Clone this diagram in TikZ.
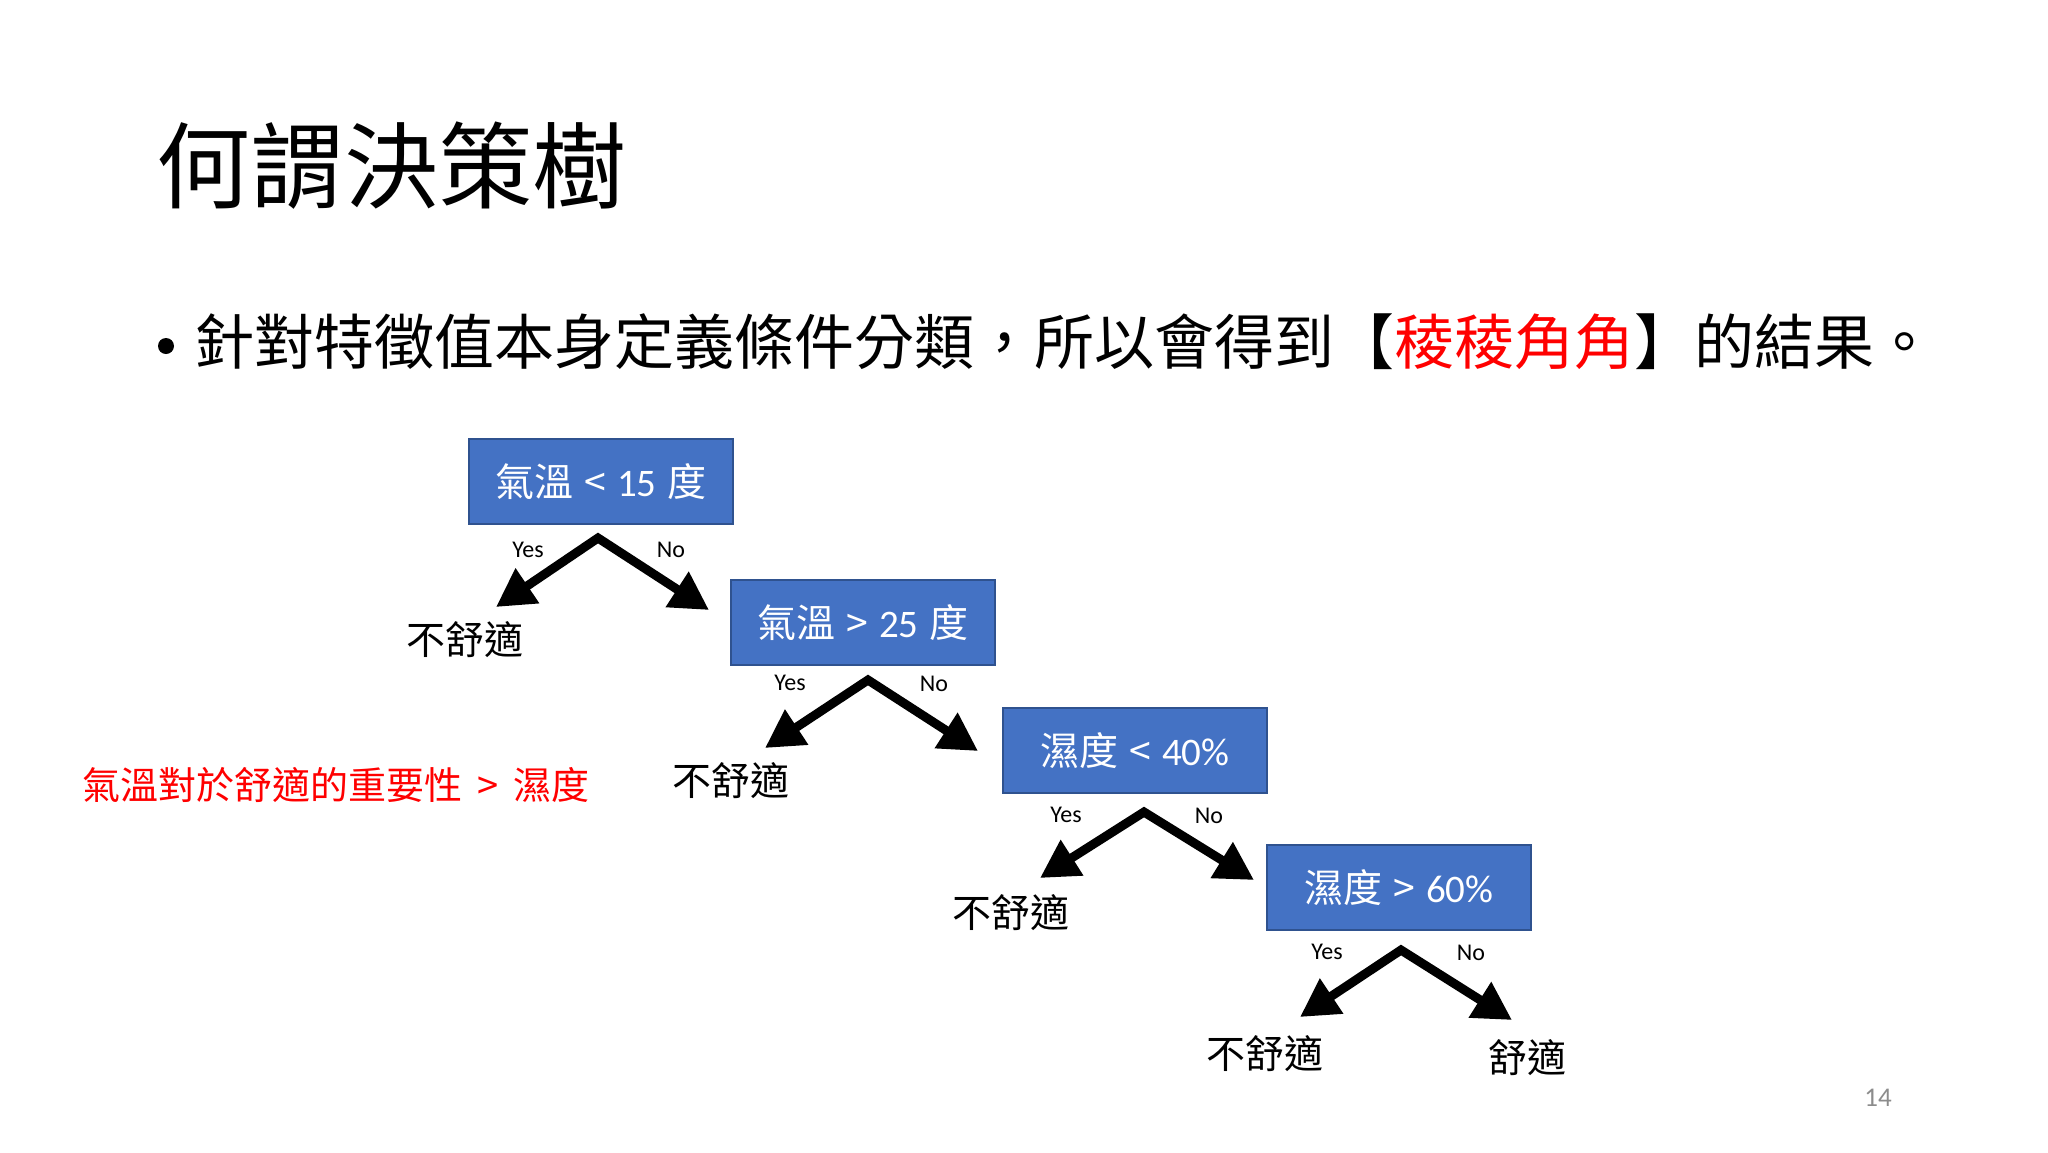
\documentclass[tikz,border=0pt]{standalone}
\usepackage{fontspec}
\setmainfont{Carlito}
\newfontfamily\cjk{Noto Sans CJK TC}
\usetikzlibrary{arrows.meta}
\definecolor{boxblue}{HTML}{4472C4}
\definecolor{boxline}{HTML}{2F528F}
\definecolor{pagegray}{HTML}{8C8C8C}
\definecolor{notered}{HTML}{FF0000}
\newcommand{\gapb}{\hspace{11pt}}
\tikzset{
  decision/.style={draw=boxline, line width=2pt, fill=boxblue, minimum width=264pt,
    minimum height=85pt, text=white, font=\fontsize{39}{46}\selectfont, inner sep=0pt},
  leaf/.style={font=\cjk\fontsize{39}{46}\selectfont, inner sep=0pt},
  yn/.style={font=\fontsize{24}{28}\selectfont, inner sep=0pt},
  branch/.style={line width=9pt, line join=miter,
    {Triangle[length=38pt,width=40pt]}-{Triangle[length=38pt,width=40pt]}},
}
\begin{document}
\begin{tikzpicture}[x=1pt,y=-1pt]
\useasboundingbox (0,0) rectangle (2048,1152);
\fill[white] (0,0) rectangle (2048,1152);

% title and bullet
\node[anchor=west, inner sep=0pt, font=\cjk\fontsize{94}{110}\selectfont] (title) at (156,166) {何謂決策樹};
\fill (166,346) circle (8);
\node[anchor=west, inner sep=0pt, font=\cjk\fontsize{60}{72}\selectfont] (bullet) at (194,342)
  {針對特徵值本身定義條件分類，所以會得到【\textcolor{notered}{稜稜角角}】的結果。};

% decision boxes
\node[decision] (b1) at (601,481.5) {{\cjk 氣溫}\gapb{\cjk <}\gapb 15\gapb{\cjk 度}};
\node[decision] (b2) at (863,622.5) {{\cjk 氣溫}\gapb{\cjk >}\gapb 25\gapb{\cjk 度}};
\node[decision] (b3) at (1135,750.5) {{\cjk 濕度}\gapb{\cjk <}\gapb 40\%};
\node[decision] (b4) at (1399,887.5) {{\cjk 濕度}\gapb{\cjk >}\gapb 60\%};

% apexes and arrow tips
\coordinate (a1) at (598,538);
\coordinate (a2) at (868,680);
\coordinate (a3) at (1144,812);
\coordinate (a4) at (1401,950);
\coordinate (tl1) at (496,607);  \coordinate (tr1) at (709,610);
\coordinate (tl2) at (765,748);  \coordinate (tr2) at (978,751);
\coordinate (tl3) at (1040,878); \coordinate (tr3) at (1254,880);
\coordinate (tl4) at (1300,1017); \coordinate (tr4) at (1512,1020);

\draw[branch] (tl1) -- (a1) -- (tr1);
\draw[branch] (tl2) -- (a2) -- (tr2);
\draw[branch] (tl3) -- (a3) -- (tr3);
\draw[branch] (tl4) -- (a4) -- (tr4);

% yes / no labels
\node[yn] (y1) at (528,550) {Yes}; \node[yn] (n1) at (671,550) {No};
\node[yn] (y2) at (790,683) {Yes}; \node[yn] (n2) at (934,684) {No};
\node[yn] (y3) at (1066,815) {Yes}; \node[yn] (n3) at (1209,816) {No};
\node[yn] (y4) at (1327,952) {Yes}; \node[yn] (n4) at (1471,953) {No};

% leaves
\node[leaf] (l1) at (465,640) {不舒適};
\node[leaf] (l2) at (731,781) {不舒適};
\node[leaf] (l3) at (1011,913) {不舒適};
\node[leaf] (l4) at (1265,1054) {不舒適};
\node[leaf] (l5) at (1527,1058) {舒適};

% note
\node[anchor=west, inner sep=0pt, text=notered, font=\cjk\fontsize{38}{45}\selectfont] (note) at (82,785)
  {氣溫對於舒適的重要性\hspace{15pt}>\hspace{15pt}濕度};

% page number
\node[inner sep=0pt, text=pagegray, font=\fontsize{27}{32}\selectfont] (page) at (1878,1098) {14};
\end{tikzpicture}
\end{document}
